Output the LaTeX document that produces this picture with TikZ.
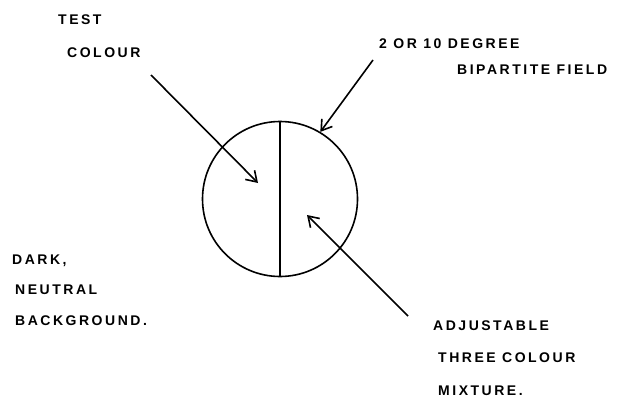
\documentclass[tikz,border=0pt]{standalone}
\usepackage{fontspec}
\setmainfont{Liberation Sans}[LetterSpace=18]
\usetikzlibrary{arrows.meta}
\begin{document}
\begin{tikzpicture}[x=1pt,y=-1pt,
  lbl/.style={anchor=west, inner sep=0pt, font=\fontsize{14}{16}\selectfont\bfseries},
  ptr/.style={-{Straight Barb[length=10pt,width=13pt]}, line width=1.6pt}]
\useasboundingbox[fill=white] (0,0) rectangle (628,409);
% bipartite field
\node[circle, draw, line width=1.6pt, minimum size=155pt, inner sep=0pt] (field) at (280,199) {};
\draw[line width=1.6pt] (field.north) -- (field.south);
% labels
\node[lbl] (test1) at (58,20) {TEST};
\node[lbl] (test2) at (67,53) {COLOUR};
\node[lbl] (deg1) at (379,44) {2 OR 10 DEGREE};
\node[lbl] (deg2) at (457,70) {BIPARTITE FIELD};
\node[lbl] (dark1) at (12,261) {DARK,};
\node[lbl] (dark2) at (15,290) {NEUTRAL};
\node[lbl] (dark3) at (15,321) {BACKGROUND.};
\node[lbl] (adj1) at (433,326) {ADJUSTABLE};
\node[lbl] (adj2) at (438,358) {THREE COLOUR};
\node[lbl] (adj3) at (438,391) {MIXTURE.};
% arrow ends
\coordinate (testS) at (151,75);
\coordinate (testT) at (258,183);
\coordinate (degS) at (373,60);
\coordinate (adjS) at (408,316);
\coordinate (adjT) at (307,215);
\draw[ptr] (testS) -- (testT);
\draw[ptr] (degS) -- (field.59);
\draw[ptr] (adjS) -- (adjT);
\end{tikzpicture}
\end{document}
